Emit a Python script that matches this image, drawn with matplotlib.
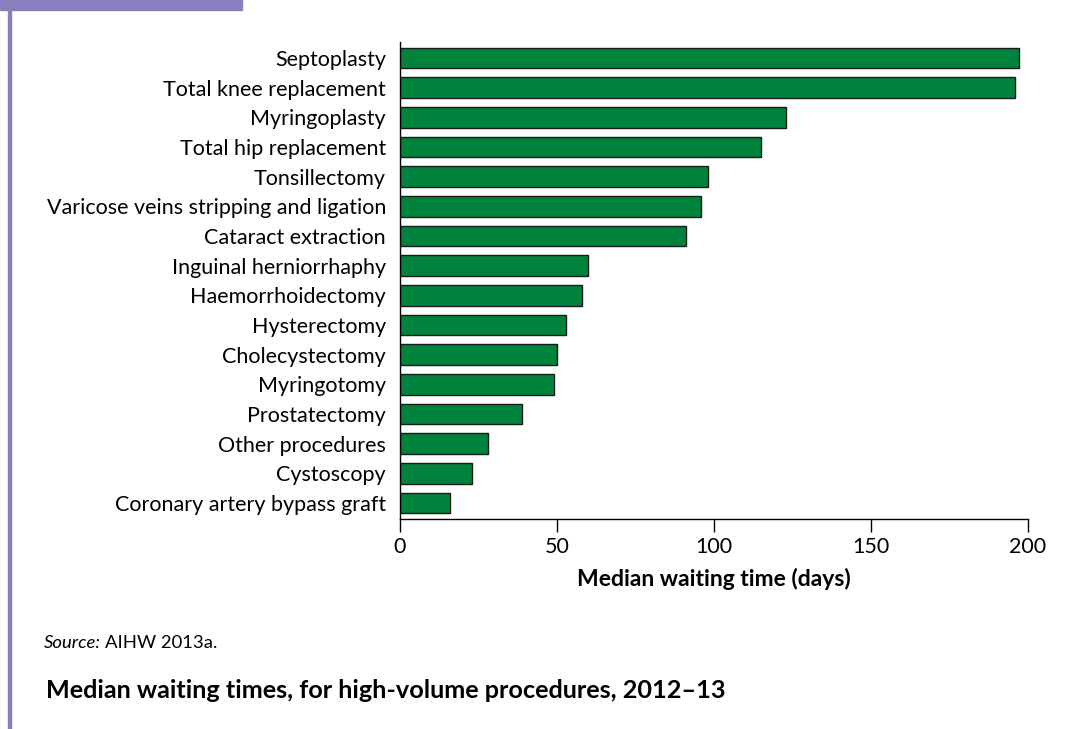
import matplotlib.pyplot as plt
from matplotlib.patches import Rectangle

procedures = [
    "Septoplasty", "Total knee replacement", "Myringoplasty", "Total hip replacement",
    "Tonsillectomy", "Varicose veins stripping and ligation", "Cataract extraction",
    "Inguinal herniorrhaphy", "Haemorrhoidectomy", "Hysterectomy", "Cholecystectomy",
    "Myringotomy", "Prostatectomy", "Other procedures", "Cystoscopy",
    "Coronary artery bypass graft",
]
median_days = [197, 196, 123, 115, 98, 96, 91, 60, 58, 53, 50, 49, 39, 28, 23, 16]
x_ticks = [0, 50, 100, 150, 200]

plt.rcParams['font.family'] = ['Lato', 'DejaVu Sans']

fig = plt.figure(figsize=(10.84, 7.29), dpi=100)

# purple frame decoration
fig.patches.append(Rectangle((0, 1 - 10 / 729), 242 / 1084, 10 / 729,
                             transform=fig.transFigure, color='#8780BD', zorder=0))
fig.patches.append(Rectangle((8 / 1084, 0), 3 / 1084, 1,
                             transform=fig.transFigure, color='#8780BD', zorder=0))

ax = fig.add_axes([400 / 1084, 1 - 519 / 729, 628 / 1084, 477 / 729])
pos = list(range(len(procedures)))
ax.barh(pos, median_days, height=0.7, color='#00843D', edgecolor='#1a1a1a', linewidth=1)
ax.set_ylim(len(procedures) - 0.46, -0.54)
ax.set_xlim(0, 200)
ax.set_yticks(pos)
ax.set_yticklabels(procedures, fontsize=15.5)
ax.tick_params(axis='y', length=0, pad=10)
ax.set_xticks(x_ticks)
ax.set_xticklabels([str(t) for t in x_ticks], fontsize=15.5)
ax.tick_params(axis='x', length=9, width=1, pad=4)
for s in ['top', 'right']:
    ax.spines[s].set_visible(False)
ax.spines['left'].set_linewidth(1)
ax.spines['bottom'].set_linewidth(1)
ax.set_xlabel("Median waiting time (days)", fontsize=16.5, fontweight='bold', labelpad=8)

src = fig.text(44 / 1084, 1 - 643 / 729, "Source:", fontsize=13.3, style='italic', va='center')
fig.canvas.draw()
bb = src.get_window_extent()
fig.text((bb.x1 + 4) / 1084, 1 - 643 / 729, "AIHW 2013a.", fontsize=13.3, va='center')
fig.text(46 / 1084, 1 - 691 / 729, "Median waiting times, for high-volume procedures, 2012\u201313",
         fontsize=18.2, fontweight='bold', va='center')

fig.savefig("out.png", dpi=100)
